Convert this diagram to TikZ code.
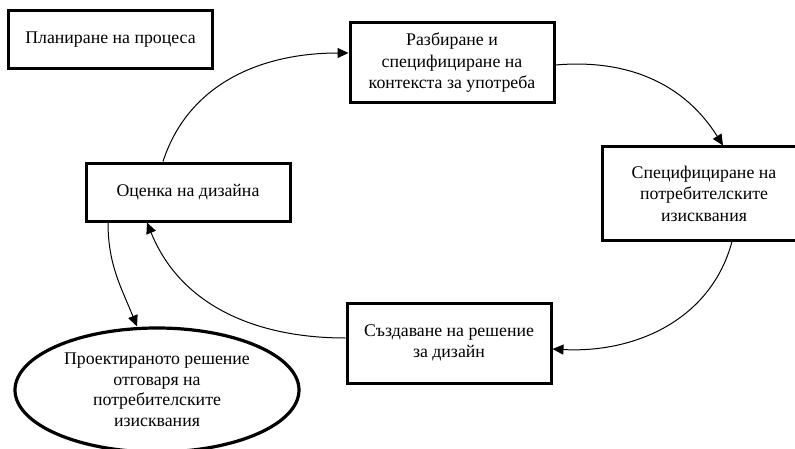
\documentclass[tikz,border=0pt]{standalone}
\usepackage{fontspec}
\setmainfont{Liberation Serif}
\usetikzlibrary{arrows.meta,shapes.geometric}
\begin{document}
\begin{tikzpicture}[x=1pt, y=1pt,
	kasten/.style={draw, line width=3pt, minimum width=204pt, align=center,
	font=\fontsize{17.8}{21.5}\selectfont, inner sep=0pt},
	pfeil/.style={-{Triangle[length=11pt, width=10pt]}, line width=1pt}]
	\useasboundingbox (0,0) rectangle (795,448);
	\clip (0,0) rectangle (795,448);
	% Kaesten
	\node[kasten, minimum height=58pt] (plan) at (110.5, 408) {Планиране на процеса};
	\node[kasten, minimum height=80pt] (kontext) at (452, 385)
		{Разбиране и\\специфициране на\\контекста за употреба};
	\node[kasten, minimum height=93pt] (anf) at (704, 254.5)
		{Специфициране на\\потребителските\\изисквания};
	\node[kasten, minimum height=80pt] (loesung) at (449, 105)
		{Създаване на решение\\за дизайн};
	\node[kasten, minimum height=58pt] (bewert) at (188, 256) {Оценка на дизайна};
	% Ergebnis
	\node[draw, ellipse, line width=3.2pt, minimum width=284pt, minimum height=124pt,
		align=center, font=\fontsize{17.8}{20.5}\selectfont, inner sep=0pt] (ziel) at (157, 58)
		{Проектираното решение\\отговаря на\\потребителските\\изисквания};
	% Pfeile
	\draw[pfeil] ([xshift=-25pt]bewert.north) to[out=72, in=180] ([yshift=10pt]kontext.west);
	\draw[pfeil] ([yshift=-2pt]kontext.east) to[out=5, in=122] ([xshift=19pt]anf.north);
	\draw[pfeil] ([xshift=28pt]anf.south) to[out=-105, in=-3] ([yshift=-6pt]loesung.east);
	\draw[pfeil] ([yshift=5pt]loesung.west) to[out=180, in=-68] ([xshift=-41pt]bewert.south);
	\draw[pfeil] ([xshift=-80pt]bewert.south) to[out=-90, in=112] ([xshift=-20pt]ziel.north);
\end{tikzpicture}
\end{document}
